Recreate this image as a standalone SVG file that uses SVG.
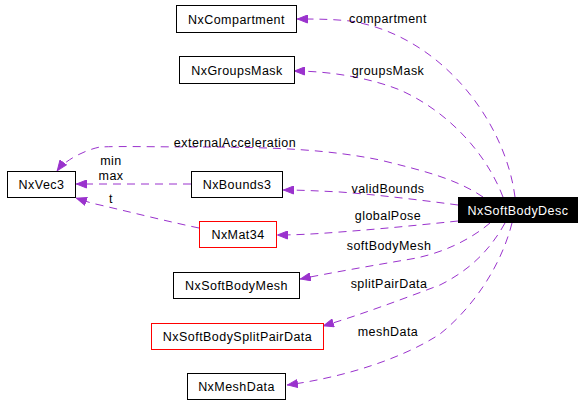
<svg xmlns="http://www.w3.org/2000/svg" width="586" height="405" viewBox="0 0 586 405">
<defs>
<style>
text{font-family:"Liberation Sans",Arial,sans-serif;font-size:12.5px;letter-spacing:0.45px;fill:#000}
.n rect{fill:#fff;stroke:#000;stroke-width:1}
.n.red rect{stroke:#ff0000}
.n text{text-anchor:middle}
.e path{fill:none;stroke:#9a32cd;stroke-width:1;stroke-dasharray:8,6}
.lbl{text-anchor:middle}
</style>
<marker id="ah" viewBox="0 0 11 9" refX="11" refY="4.5" markerWidth="11" markerHeight="9" markerUnits="userSpaceOnUse" orient="auto">
<path d="M0.5,0.5 L10.5,4.5 L0.5,8.5 Z" fill="#9a32cd" stroke="#9a32cd"/>
</marker>
</defs>
<rect width="586" height="405" fill="#fff"/>
<g id="edges" class="e">
<path d="M515,197 C505,120 440,35 350,21 C330,19 315,19 297,19" marker-end="url(#ah)"/>
<path d="M503,197 C485,150 445,110 400,90 C370,78 330,71 294,71" marker-end="url(#ah)"/>
<path d="M483,197 C455,178 420,170 380,160 C330,150 280,147 200,147 C160,147 120,146 100,147 C85,150 65,160 57,171" marker-end="url(#ah)"/>
<path d="M458,205 C420,200 380,195 340,192 C320,191 300,190 283,190" marker-end="url(#ah)"/>
<path d="M191,184 L76,184" marker-end="url(#ah)"/>
<path d="M199,228 C170,222 130,212 100,205 C90,203 82,200 76,198" marker-end="url(#ah)"/>
<path d="M458,221 C420,225 380,229 340,232 C315,234 295,235 277,235" marker-end="url(#ah)"/>
<path d="M490,223 C470,240 440,255 405,260 C370,266 330,273 300,279" marker-end="url(#ah)"/>
<path d="M505,223 C490,250 470,270 440,285 C400,300 360,315 323,326" marker-end="url(#ah)"/>
<path d="M512,223 C500,270 470,310 440,334 C400,360 340,378 287,385" marker-end="url(#ah)"/>
</g>
<g id="edge-labels">
<text class="lbl" x="388" y="23">compartment</text>
<text class="lbl" x="388" y="75">groupsMask</text>
<text class="lbl" x="235" y="147">externalAcceleration</text>
<text class="lbl" x="111" y="165">min</text>
<text class="lbl" x="111" y="180">max</text>
<text class="lbl" x="111" y="203">t</text>
<text class="lbl" x="388" y="193">validBounds</text>
<text class="lbl" x="388" y="220">globalPose</text>
<text class="lbl" x="389" y="250">softBodyMesh</text>
<text class="lbl" x="389" y="288">splitPairData</text>
<text class="lbl" x="388" y="336">meshData</text>
</g>
<g id="NxCompartment" class="n"><rect x="176.5" y="5.5" width="120" height="27"/><text x="236.5" y="23.5">NxCompartment</text></g>
<g id="NxGroupsMask" class="n"><rect x="179.5" y="56.5" width="115" height="27"/><text x="237" y="74.5">NxGroupsMask</text></g>
<g id="NxVec3" class="n"><rect x="7.5" y="171.5" width="68" height="26"/><text x="41.5" y="189">NxVec3</text></g>
<g id="NxBounds3" class="n"><rect x="191.5" y="171.5" width="91" height="26"/><text x="237" y="189">NxBounds3</text></g>
<g id="NxMat34" class="n red"><rect x="199.5" y="221.5" width="77" height="26"/><text x="238" y="239">NxMat34</text></g>
<g id="NxSoftBodyDesc"><rect x="458" y="197" width="120" height="26" fill="#000"/><text x="518" y="215" text-anchor="middle" style="fill:#fff">NxSoftBodyDesc</text></g>
<g id="NxSoftBodyMesh" class="n"><rect x="173.5" y="272.5" width="126" height="26"/><text x="236.5" y="290">NxSoftBodyMesh</text></g>
<g id="NxSoftBodySplitPairData" class="n red"><rect x="151.5" y="323.5" width="172" height="26"/><text x="237.5" y="341">NxSoftBodySplitPairData</text></g>
<g id="NxMeshData" class="n"><rect x="187.5" y="373.5" width="98" height="26"/><text x="236.5" y="391">NxMeshData</text></g>
</svg>
